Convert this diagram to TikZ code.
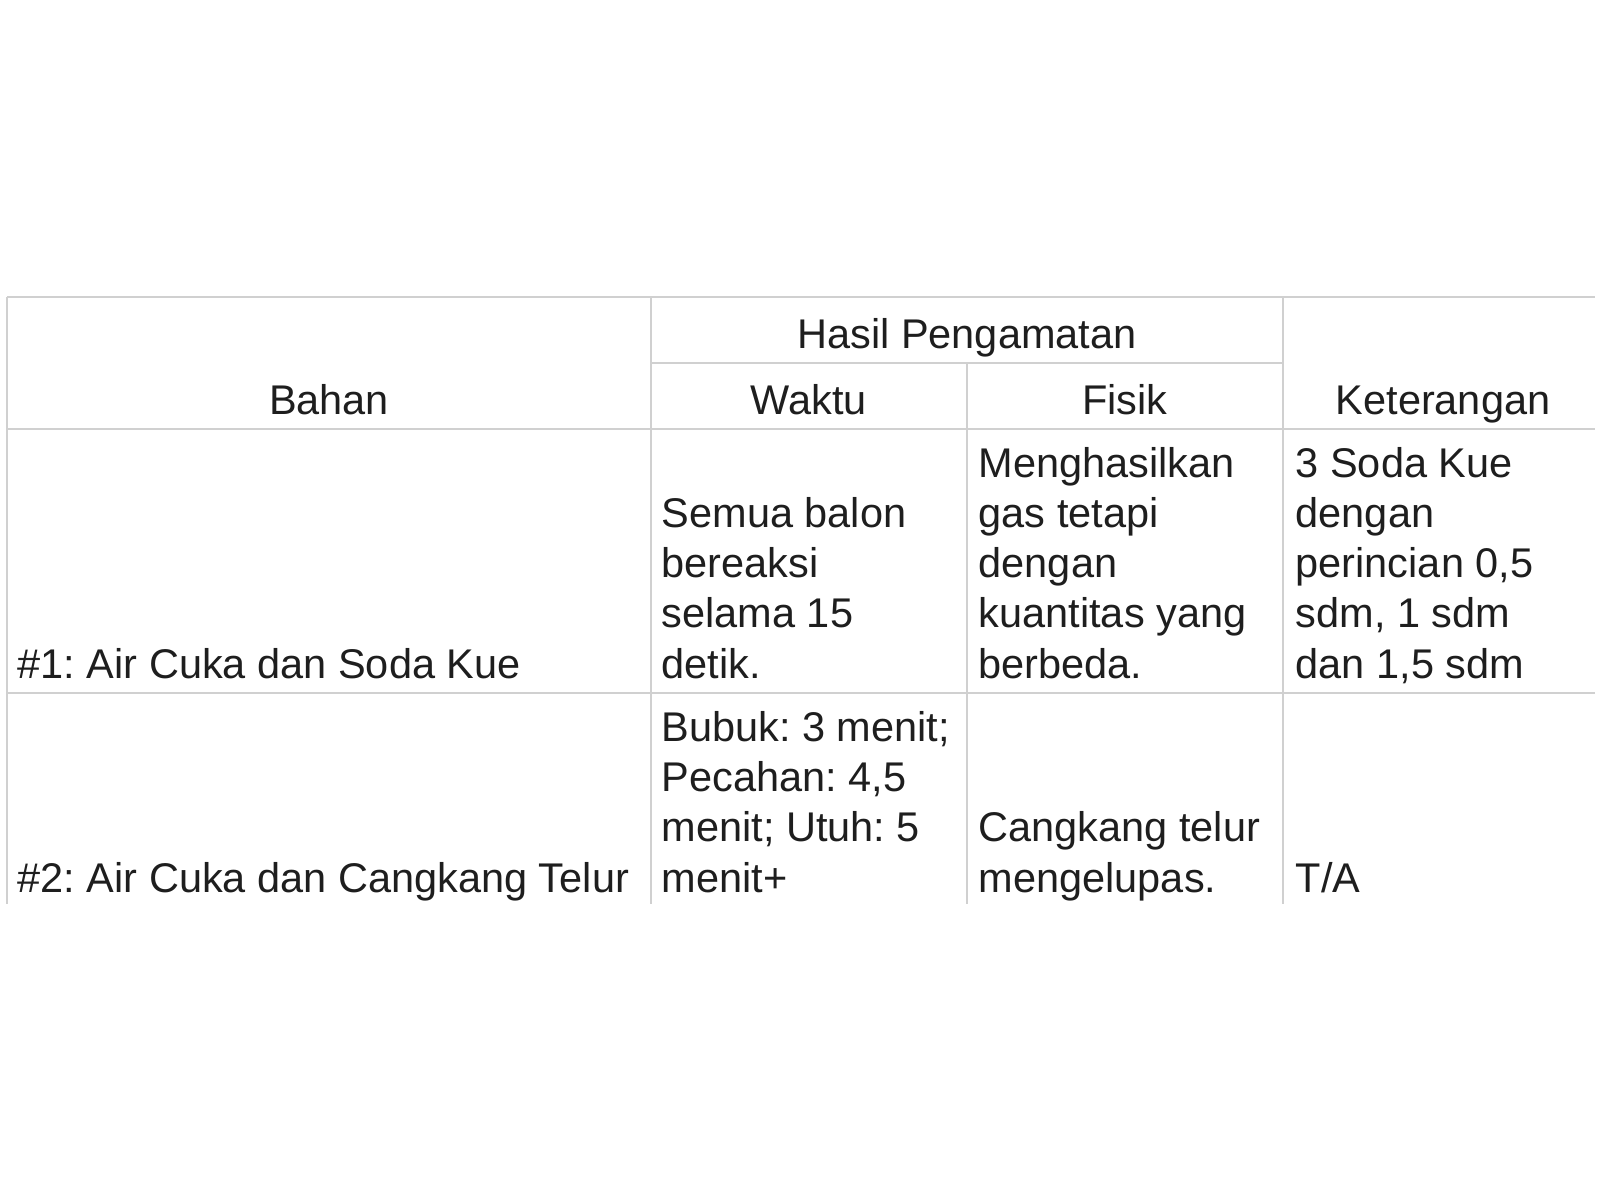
\documentclass[tikz,border=0pt]{standalone}
\usepackage{fontspec}
\setmainfont{Liberation Sans}
\definecolor{rulegray}{RGB}{208,208,208}
\definecolor{inkgray}{RGB}{30,30,30}
\frenchspacing

\begin{document}
\begin{tikzpicture}[x=0.01cm, y=-0.01cm,
  rule/.style={draw=rulegray, line width=0.6pt},
  cell/.style={anchor=base west, align=left, inner sep=0pt, text=inkgray, font=\fontsize{11.8}{14.23}\selectfont},
  head/.style={cell, anchor=base, align=center}]

\useasboundingbox (0,0) rectangle (1600,1200);

\begin{scope}
\clip (0,0) rectangle (1600,903);

\foreach \y in {297, 429, 693}
 \draw[rule] (7,\y)--(1595,\y);
\draw[rule] (651,363)--(1283,363);
\foreach \x in {7, 651, 1283}
 \draw[rule] (\x,297)--(\x,910);
\draw[rule] (967,363)--(967,910);

\node[head] (hasil) at (967,348) {Hasil Pengamatan};
\node[head] (bahan) at (329,414) {Bahan};
\node[head] (waktu) at (809,414) {Waktu};
\node[head] (fisik) at (1125,414) {Fisik};
\node[head] (ket) at (1443,414) {Keterangan};

\node[cell] (bahan1) at (17,678) {\#1: Air Cuka dan Soda Kue};
\node[cell] (waktu1) at (661,678) {Semua balon\\bereaksi\\selama 15\\detik.};
\node[cell] (fisik1) at (978,678) {Menghasilkan\\gas tetapi\\dengan\\kuantitas yang\\berbeda.};
\node[cell] (ket1) at (1295,678) {3 Soda Kue\\dengan\\perincian 0,5\\sdm, 1 sdm\\dan 1,5 sdm};

\node[cell] (bahan2) at (17,892) {\#2: Air Cuka dan Cangkang Telur};
\node[cell] (waktu2) at (661,892) {Bubuk: 3 menit;\\Pecahan: 4,5\\menit; Utuh: 5\\menit+};
\node[cell] (fisik2) at (978,892) {Cangkang telur\\mengelupas.};
\node[cell] (ket2) at (1295,892) {T/A};
\end{scope}

\end{tikzpicture}
\end{document}
